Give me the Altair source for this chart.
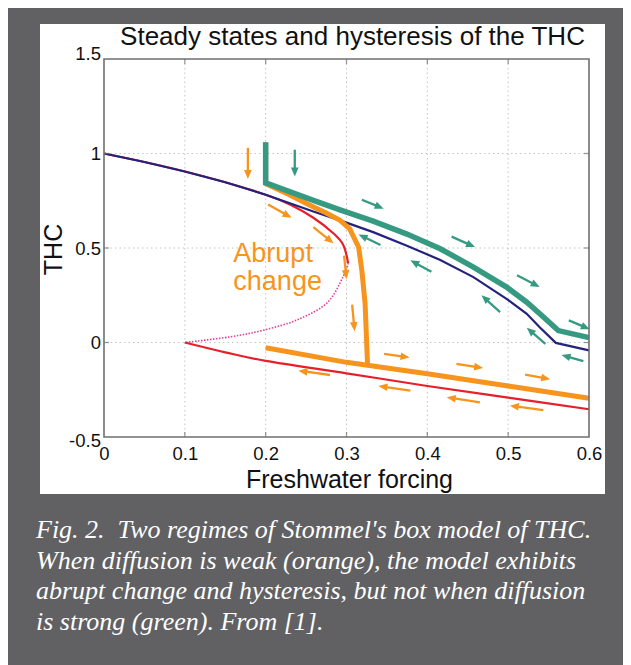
import altair as alt
import pandas as pd
import numpy as np

# ---------------- data ----------------
X_TICKS = [0, 0.1, 0.2, 0.3, 0.4, 0.5, 0.6]
Y_TICKS = [-0.5, 0, 0.5, 1, 1.5]

# weak diffusion: stable upper branch (red), unstable branch (magenta, dotted), stable lower branch (red)
RED_UP_X = [0.0, 0.05, 0.1, 0.15, 0.2, 0.23, 0.259, 0.2837, 0.296, 0.302]
RED_UP_Y = [1.0, 0.955, 0.905, 0.848, 0.782, 0.73, 0.66, 0.578, 0.516, 0.42]
UNST_X = [0.302, 0.296, 0.276, 0.239, 0.197, 0.156, 0.1]
UNST_Y = [0.42, 0.35, 0.21, 0.12, 0.065, 0.03, 0.0]
RED_LO_X = [0.1, 0.15, 0.2, 0.3, 0.4, 0.5, 0.6]
RED_LO_Y = [0.0, -0.052, -0.097, -0.163, -0.23, -0.292, -0.353]

# strong diffusion steady states (navy)
BLUE_X = [0.0, 0.05, 0.1, 0.15, 0.2, 0.259, 0.292, 0.333, 0.374, 0.416, 0.457, 0.498, 0.523, 0.539, 0.559, 0.6]
BLUE_Y = [1.0, 0.955, 0.905, 0.848, 0.782, 0.693, 0.646, 0.584, 0.513, 0.437, 0.346, 0.231, 0.152, 0.081, -0.002, -0.042]

# strong diffusion trajectory (green)
GREEN_X = [0.2, 0.2, 0.259, 0.292, 0.333, 0.374, 0.416, 0.457, 0.498, 0.523, 0.544, 0.562, 0.6]
GREEN_Y = [1.06, 0.845, 0.752, 0.702, 0.642, 0.575, 0.496, 0.399, 0.293, 0.213, 0.134, 0.063, 0.026]

# weak diffusion trajectory (orange): upper part with abrupt drop, lower part
ORANGE_UP_X = [0.2, 0.2, 0.23, 0.251, 0.2755, 0.292, 0.304, 0.315, 0.319, 0.323, 0.326]
ORANGE_UP_Y = [1.06, 0.84, 0.78, 0.734, 0.684, 0.646, 0.601, 0.504, 0.381, 0.205, -0.113]
ORANGE_LO_X = [0.2, 0.3, 0.4, 0.5, 0.6]
ORANGE_LO_Y = [-0.028, -0.105, -0.165, -0.23, -0.295]

# direction arrows: tail -> head
ARROW_GROUP = ["orange"] * 12 + ["green"] * 10
ARROW_TX = [0.178, 0.203, 0.259, 0.297, 0.307, 0.3465, 0.436, 0.521, 0.2796, 0.379, 0.465, 0.5435,
            0.236, 0.319, 0.430, 0.511, 0.575, 0.342, 0.405, 0.49, 0.546, 0.593]
ARROW_TY = [1.03, 0.73, 0.61, 0.46, 0.20, -0.06, -0.113, -0.170, -0.172, -0.255, -0.317, -0.358,
            1.02, 0.755, 0.56, 0.356, 0.117, 0.516, 0.374, 0.161, -0.007, -0.099]
ARROW_HX = [0.178, 0.232, 0.284, 0.300, 0.310, 0.378, 0.469, 0.552, 0.2405, 0.3395, 0.424, 0.502,
            0.236, 0.346, 0.459, 0.539, 0.601, 0.315, 0.379, 0.467, 0.523, 0.566]
ARROW_HY = [0.865, 0.66, 0.525, 0.335, 0.06, -0.079, -0.135, -0.194, -0.149, -0.23, -0.29, -0.334,
            0.878, 0.708, 0.505, 0.293, 0.07, 0.572, 0.435, 0.25, 0.078, -0.066]

TITLE = "Steady states and hysteresis of the THC"
X_TITLE = "Freshwater forcing"
Y_TITLE = "THC"
ANNOT = ["Abrupt", "change"]
CAPTION_LINES = [
    "Fig. 2.\u00a0 Two regimes of Stommel's box model of THC.",
    "When diffusion is weak (orange), the model exhibits",
    "abrupt change and hysteresis, but not when diffusion",
    "is strong (green). From [1].",
]

# ---------------- styling ----------------
W, H = 485, 378
ORANGE = "#F7941E"
GREEN = "#369A82"
NAVY = "#23237E"
RED = "#E5202A"
MAGENTA = "#E0409C"
GRAY_BG = "#616163"
FRAME = "#6E716F"
SANS = "Liberation Sans"

XS = alt.Scale(domain=[0, 0.6], nice=False, zero=False)
YS = alt.Scale(domain=[-0.5, 1.5], nice=False, zero=False)

XAX = alt.Axis(values=X_TICKS, labelExpr="datum.value + ''", grid=False, ticks=False, domain=False,
               labelFont=SANS, labelFontSize=18.5, labelColor="#111", labelPadding=7,
               labelFlush=False, labelOverlap=False, labelBound=False,
               title=X_TITLE, titleFont=SANS, titleFontSize=25, titleFontWeight="normal",
               titleColor="#111", titleX=245, titleY=50.5, titleBaseline="alphabetic",
               titleAlign="center", zindex=1)
YAX = alt.Axis(values=Y_TICKS, labelExpr="datum.value + ''", grid=False, ticks=False, domain=False,
               labelFont=SANS, labelFontSize=18.5, labelColor="#111", labelPadding=3.5,
               labelFlush=False, labelOverlap=False, labelBound=False,
               labelOffset={"condition": [{"test": "datum.value == 1.5", "value": -6},
                                          {"test": "datum.value == -0.5", "value": 3}],
                            "value": 0},
               title=Y_TITLE, titleFont=SANS, titleFontSize=25, titleFontWeight="normal",
               titleColor="#111", titleAngle=270, titleX=-51, titleY=190,
               titleBaseline="middle", titleAlign="center", zindex=1)


def X(f):
    return alt.X(f, type="quantitative", scale=XS, axis=XAX)


def Y(f):
    return alt.Y(f, type="quantitative", scale=YS, axis=YAX)


def series(xs, ys):
    return pd.DataFrame({"x": xs, "y": ys, "i": list(range(len(xs)))})


def line(xs, ys, color, width, dash=None, interp="linear"):
    kw = dict(color=color, strokeWidth=width, interpolate=interp)
    if dash:
        kw["strokeDash"] = dash
    return alt.Chart(series(xs, ys)).mark_line(**kw).encode(x=X("x"), y=Y("y"), order="i:Q")


one = pd.DataFrame({"k": [0]})

# white figure box behind the axes
white_box = alt.Chart(one).mark_rect(color="white").encode(
    x=alt.value(-64), x2=alt.value(501), y=alt.value(-35), y2=alt.value(435))

# dotted grid
gx = pd.DataFrame({"x": X_TICKS[1:-1]})
gy = pd.DataFrame({"y": Y_TICKS[1:-1]})
grid_x = alt.Chart(gx).mark_rule(color="#C4C4C4", strokeWidth=1, strokeDash=[1.5, 3]).encode(x=X("x"))
grid_y = alt.Chart(gy).mark_rule(color="#C4C4C4", strokeWidth=1, strokeDash=[1.5, 3]).encode(y=Y("y"))

# inward ticks on the four sides
TL = 5
tb = pd.DataFrame({"x": X_TICKS[1:-1], "y": [-0.5] * 5})
tt = pd.DataFrame({"x": X_TICKS[1:-1], "y": [1.5] * 5})
tl = pd.DataFrame({"x": [0] * 3, "y": Y_TICKS[1:-1]})
tr = pd.DataFrame({"x": [0.6] * 3, "y": Y_TICKS[1:-1]})
ticks = [
    alt.Chart(tb).mark_tick(orient="vertical", size=TL, thickness=1.3, color=FRAME, yOffset=-TL / 2).encode(x=X("x"), y=Y("y")),
    alt.Chart(tt).mark_tick(orient="vertical", size=TL, thickness=1.3, color=FRAME, yOffset=TL / 2).encode(x=X("x"), y=Y("y")),
    alt.Chart(tl).mark_tick(orient="horizontal", size=TL, thickness=1.3, color=FRAME, xOffset=TL / 2).encode(x=X("x"), y=Y("y")),
    alt.Chart(tr).mark_tick(orient="horizontal", size=TL, thickness=1.3, color=FRAME, xOffset=-TL / 2).encode(x=X("x"), y=Y("y")),
]

# frame
fr = pd.DataFrame({"x0": [X_TICKS[0]], "x1": [X_TICKS[-1]], "y0": [Y_TICKS[0]], "y1": [Y_TICKS[-1]]})
frame = alt.Chart(fr).mark_rect(filled=False, stroke=FRAME, strokeWidth=1.6).encode(
    x=X("x0"), x2="x1", y=Y("y0"), y2="y1")

# arrows
PXX, PXY = W / 0.6, H / 2.0
ar = pd.DataFrame({"g": ARROW_GROUP, "tx": ARROW_TX, "ty": ARROW_TY, "hx": ARROW_HX, "hy": ARROW_HY})
dxp = (ar.hx - ar.tx) * PXX
dyp = -(ar.hy - ar.ty) * PXY
L = np.hypot(dxp, dyp)
ar["ang"] = (np.degrees(np.arctan2(dyp, dxp)) + 360) % 360
ar["sx"] = ar.hx - (dxp / L) * 6 / PXX
ar["sy"] = ar.hy + (dyp / L) * 6 / PXY
acol = alt.Color("g:N", scale=alt.Scale(domain=["orange", "green"], range=[ORANGE, GREEN]), legend=None)
shafts = alt.Chart(ar).mark_rule(strokeWidth=2.3).encode(
    x=X("tx"), y=Y("ty"), x2="sx", y2="sy", color=acol)
heads = alt.Chart(ar).mark_point(shape="M0,0L-2,-0.85L-2,0.85Z", filled=True, size=81, opacity=1,
                                 strokeWidth=0).encode(
    x=X("hx"), y=Y("hy"), angle=alt.Angle("ang:Q", scale=None), color=acol)

annot = alt.Chart(pd.DataFrame({"x": [0.16], "y": [0.425]})).mark_text(
    text=ANNOT, font=SANS, fontSize=27, color=ORANGE, align="left", baseline="alphabetic",
    lineHeight=28).encode(x=X("x"), y=Y("y"))

title = alt.Chart(one).mark_text(text=TITLE, font=SANS, fontSize=26, color="#111",
                                 align="center", baseline="alphabetic").encode(
    x=alt.value(248.5), y=alt.value(-14))

caption = alt.Chart(one).mark_text(text=CAPTION_LINES, font="Liberation Serif", fontStyle="italic",
                                   fontSize=26, color="white", align="left", baseline="alphabetic",
                                   lineHeight=30.5).encode(x=alt.value(-68), y=alt.value(479))

layers = [white_box, grid_x, grid_y,
          line(UNST_X, UNST_Y, MAGENTA, 1.6, [1.5, 1.5], "cardinal"),
          line(RED_UP_X, RED_UP_Y, RED, 2.2, None, "cardinal"),
          line(RED_LO_X, RED_LO_Y, RED, 2.2, None, "cardinal"),
          line(BLUE_X, BLUE_Y, NAVY, 2.2),
          line(ORANGE_UP_X, ORANGE_UP_Y, ORANGE, 5),
          line(ORANGE_LO_X, ORANGE_LO_Y, ORANGE, 5),
          line(GREEN_X, GREEN_Y, GREEN, 5.5),
          shafts, heads] + ticks + [frame, annot, title, caption]

chart = alt.layer(*layers).properties(
    width=W, height=H,
    autosize=alt.AutoSizeParams(type="none"),
    padding={"left": 96, "top": 51, "right": 34, "bottom": 228},
).configure(background=GRAY_BG).configure_view(stroke=None)

chart.save("out.html", embed_options={"renderer": "svg", "actions": False})
